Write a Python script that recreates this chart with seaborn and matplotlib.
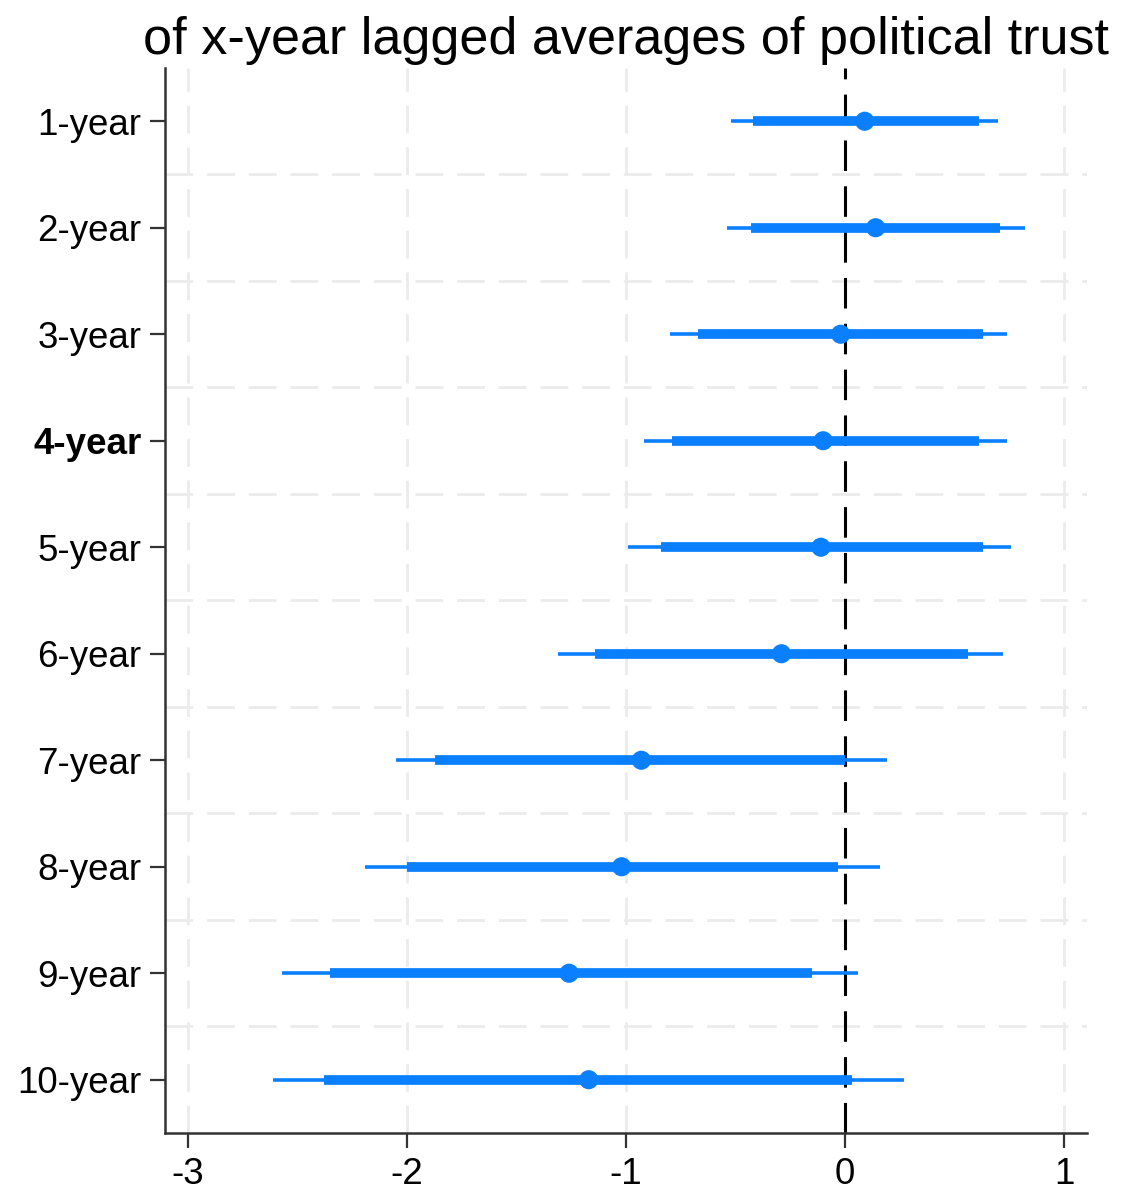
import matplotlib
matplotlib.use('Agg')
import matplotlib.pyplot as plt
import seaborn as sns
import numpy as np
import pandas as pd

# values
labels = ['1-year', '2-year', '3-year', '4-year', '5-year',
          '6-year', '7-year', '8-year', '9-year', '10-year']
estimate = [0.09, 0.14, -0.02, -0.10, -0.11, -0.29, -0.93, -1.02, -1.26, -1.17]
ci90_lo = [-0.42, -0.43, -0.67, -0.79, -0.84, -1.14, -1.87, -2.00, -2.35, -2.38]
ci90_hi = [0.61, 0.71, 0.63, 0.61, 0.63, 0.56, 0.00, -0.03, -0.15, 0.03]
ci95_lo = [-0.52, -0.54, -0.80, -0.92, -0.99, -1.31, -2.05, -2.19, -2.57, -2.61]
ci95_hi = [0.70, 0.82, 0.74, 0.74, 0.76, 0.72, 0.19, 0.16, 0.06, 0.27]
xticks = [-3, -2, -1, 0, 1]
bold_label = '4-year'

title = 'of x-year lagged averages of political trust'

df = pd.DataFrame({'lag': labels, 'est': estimate,
                   'lo90': ci90_lo, 'hi90': ci90_hi,
                   'lo95': ci95_lo, 'hi95': ci95_hi})
df['pos'] = np.arange(len(df))

sns.set_style('white')
plt.rcParams['font.family'] = ['Liberation Sans', 'DejaVu Sans']
plt.rcParams['text.color'] = 'black'
plt.rcParams['xtick.labelcolor'] = 'black'
plt.rcParams['ytick.labelcolor'] = 'black'

blue = '#0A7FFF'
grid_col = '#ebebeb'

fig = plt.figure(figsize=(11.25, 11.95), dpi=100)
ax = fig.add_axes([0.1467, 0.0519, 0.8195, 0.8912])

# grid lines
for v in xticks:
    if v != 0:
        ax.axvline(v, color=grid_col, lw=2, dashes=(10, 5), zorder=0)
for p in df['pos'][:-1]:
    ax.axhline(p + 0.5, color=grid_col, lw=2, dashes=(10, 5), zorder=0)

ax.axvline(0, color='black', lw=2.2, dashes=(10, 5), zorder=1)

# intervals
ax.hlines(df['pos'], df['lo95'], df['hi95'], color=blue, lw=2.6, zorder=2)
ax.hlines(df['pos'], df['lo90'], df['hi90'], color=blue, lw=7, zorder=3)
sns.scatterplot(data=df, x='est', y='pos', color=blue, s=190,
                edgecolor='none', zorder=4, ax=ax, legend=False)

ax.set_xlim(-3.105, 1.105)
ax.set_ylim(len(df) - 0.5, -0.5)
ax.set_xticks(xticks)
ax.set_xticklabels([str(t) for t in xticks])
ax.set_yticks(df['pos'])
ax.set_yticklabels(df['lag'])
ax.set_xlabel('')
ax.set_ylabel('')

for lab in ax.get_yticklabels():
    if lab.get_text() == bold_label:
        lab.set_fontweight('bold')

ax.tick_params(axis='both', labelsize=26.5, length=11, width=1.6,
               color='#333333', labelcolor='black', pad=6,
               left=True, bottom=True)

sns.despine(ax=ax)
for s in ['left', 'bottom']:
    ax.spines[s].set_color('#333333')
    ax.spines[s].set_linewidth(1.8)

ax.set_title(title, fontsize=37.5, pad=10, color='black')

fig.savefig('out.png', dpi=100)
